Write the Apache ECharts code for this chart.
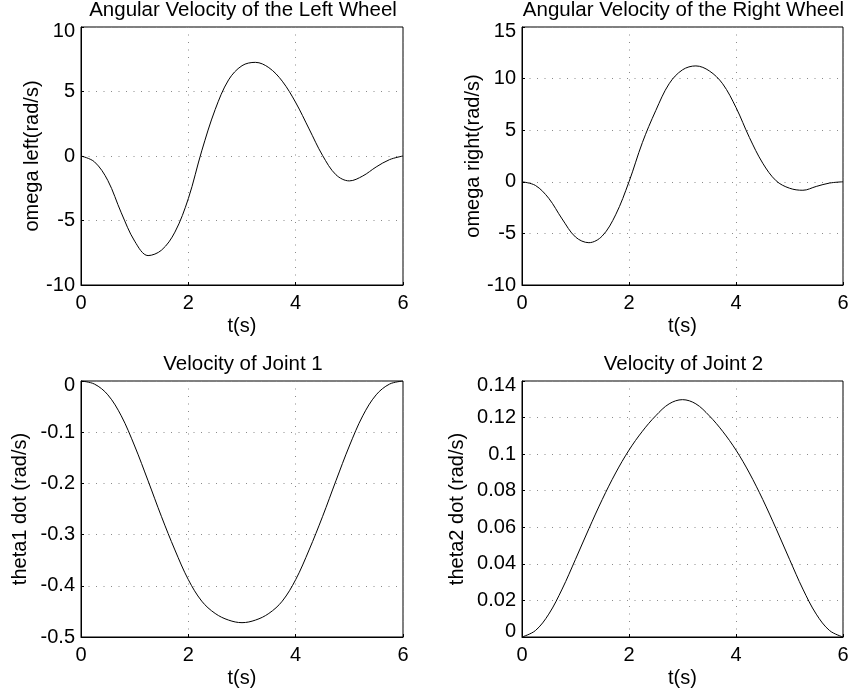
<!DOCTYPE html>
<html>
<head>
<meta charset="utf-8">
<title>Wheel and joint velocities</title>
<script src="https://cdn.jsdelivr.net/npm/echarts@6/dist/echarts.min.js"></script>
<style>
  html, body { margin: 0; padding: 0; background: #fff; }
  #main { width: 854px; height: 693px; }
</style>
</head>
<body>
<div id="main"></div>
<script>
// time samples (s)
const time = [0, 0.25, 0.5, 0.75, 1, 1.25, 1.5, 1.75, 2, 2.25, 2.5, 2.75, 3,
  3.25, 3.5, 3.75, 4, 4.25, 4.5, 4.75, 5, 5.25, 5.5, 5.75, 6];

// values
const omegaLeft = [0, -0.45, -1.9, -4.4, -6.6, -7.72, -7.3, -5.9, -3.3, 0.4, 3.6, 5.9, 7.0,
  7.26, 6.85, 5.8, 4.15, 2.1, 0.05, -1.45, -1.93, -1.55, -0.85, -0.28, 0];
const omegaRight = [0, -0.35, -1.6, -3.6, -5.35, -5.9, -5.25, -3.2, 0.0, 3.8, 6.9, 9.5, 10.85,
  11.23, 10.75, 9.5, 7.2, 4.3, 1.8, 0.1, -0.62, -0.82, -0.45, -0.12, 0];
const theta1Dot = [0, -0.006, -0.027, -0.068, -0.127, -0.195, -0.265, -0.33, -0.388, -0.43, -0.454, -0.467, -0.472,
  -0.467, -0.454, -0.43, -0.388, -0.33, -0.265, -0.195, -0.127, -0.068, -0.027, -0.006, 0];
const theta2Dot = [0, 0.0035, 0.0125, 0.0262, 0.0425, 0.0592, 0.0752, 0.0897, 0.1022, 0.1125, 0.121, 0.1275, 0.1298,
  0.1275, 0.121, 0.1125, 0.1022, 0.0897, 0.0752, 0.0592, 0.0425, 0.0262, 0.0125, 0.0035, 0];

const titles = ['Angular Velocity of the Left Wheel', 'Angular Velocity of the Right Wheel',
  'Velocity of Joint 1', 'Velocity of Joint 2'];
const yNames = ['omega left(rad/s)', 'omega right(rad/s)', 'theta1 dot (rad/s)', 'theta2 dot (rad/s)'];
const xName = 't(s)';
const yRanges = [[-10, 10, 5], [-10, 15, 5], [-0.5, 0, 0.1], [0, 0.14, 0.02]];
const xRange = [0, 6, 2];

const FONT = "'Liberation Sans', Arial, Helvetica, sans-serif";

const grids = [
  {left: 81, top: 27, width: 322, height: 258},
  {left: 522, top: 27, width: 321, height: 258},
  {left: 81, top: 381, width: 322, height: 256},
  {left: 522, top: 381, width: 321, height: 256}
];
const yNameGap = [37, 36, 51, 55];

const myChart = echarts.init(document.getElementById('main'));

const gridLine = {
  show: true,
  lineStyle: {color: '#8a8a8a', width: 1, type: [1, 6.5]}
};

// matlab nudges the end labels a little, mimic that
function yLabelFormatter(i) {
  return function (v) {
    if (v === yRanges[i][1]) return '{down|' + v + '}';
    if (i === 3 && v === 0) return '{up|' + v + '}';
    return '{n|' + v + '}';
  };
}
const labelRich = {
  n: {fontFamily: FONT, fontSize: 20, color: '#000'},
  down: {fontFamily: FONT, fontSize: 20, color: '#000', padding: [8, 0, 0, 0]},
  up: {fontFamily: FONT, fontSize: 20, color: '#000', padding: [0, 0, 12, 0]}
};

let option = {
  animation: false,
  backgroundColor: '#fff',
  textStyle: {fontFamily: FONT, color: '#000'},
  title: titles.map((t, i) => ({
    text: t,
    left: grids[i].left + grids[i].width / 2 + 1,
    top: grids[i].top - 27,
    textAlign: 'center',
    padding: 0,
    textStyle: {fontFamily: FONT, fontSize: 20.5, fontWeight: 'normal', color: '#000'}
  })),
  grid: grids.map(g => Object.assign({show: true, borderColor: '#000', borderWidth: 1, backgroundColor: '#fff'}, g)),
  xAxis: grids.map((g, i) => ({
    type: 'value',
    gridIndex: i,
    min: xRange[0],
    max: xRange[1],
    interval: xRange[2],
    name: xName,
    nameLocation: 'middle',
    nameGap: 31,
    nameTextStyle: {fontFamily: FONT, fontSize: 20, color: '#000'},
    axisLine: {show: true, onZero: false, lineStyle: {color: '#000', width: 1}},
    axisTick: {show: true, inside: true, length: 3, lineStyle: {color: '#000'}},
    axisLabel: {fontFamily: FONT, fontSize: 20, color: '#000', margin: 8},
    splitLine: gridLine
  })),
  yAxis: grids.map((g, i) => ({
    type: 'value',
    gridIndex: i,
    min: yRanges[i][0],
    max: yRanges[i][1],
    interval: yRanges[i][2],
    name: yNames[i],
    nameLocation: 'middle',
    nameGap: yNameGap[i],
    nameTextStyle: {fontFamily: FONT, fontSize: 20, color: '#000'},
    axisLine: {show: true, onZero: false, lineStyle: {color: '#000', width: 1}},
    axisTick: {show: true, inside: true, length: 3, lineStyle: {color: '#000'}},
    axisLabel: {fontFamily: FONT, fontSize: 20, color: '#000', margin: 6,
      formatter: yLabelFormatter(i), rich: labelRich},
    splitLine: gridLine
  })),
  series: [omegaLeft, omegaRight, theta1Dot, theta2Dot].map((vals, i) => ({
    type: 'line',
    xAxisIndex: i,
    yAxisIndex: i,
    showSymbol: false,
    smooth: 0.35,
    lineStyle: {color: '#000', width: 1},
    data: time.map((t, k) => [t, vals[k]])
  }))
};

myChart.setOption(option);
</script>
</body>
</html>
